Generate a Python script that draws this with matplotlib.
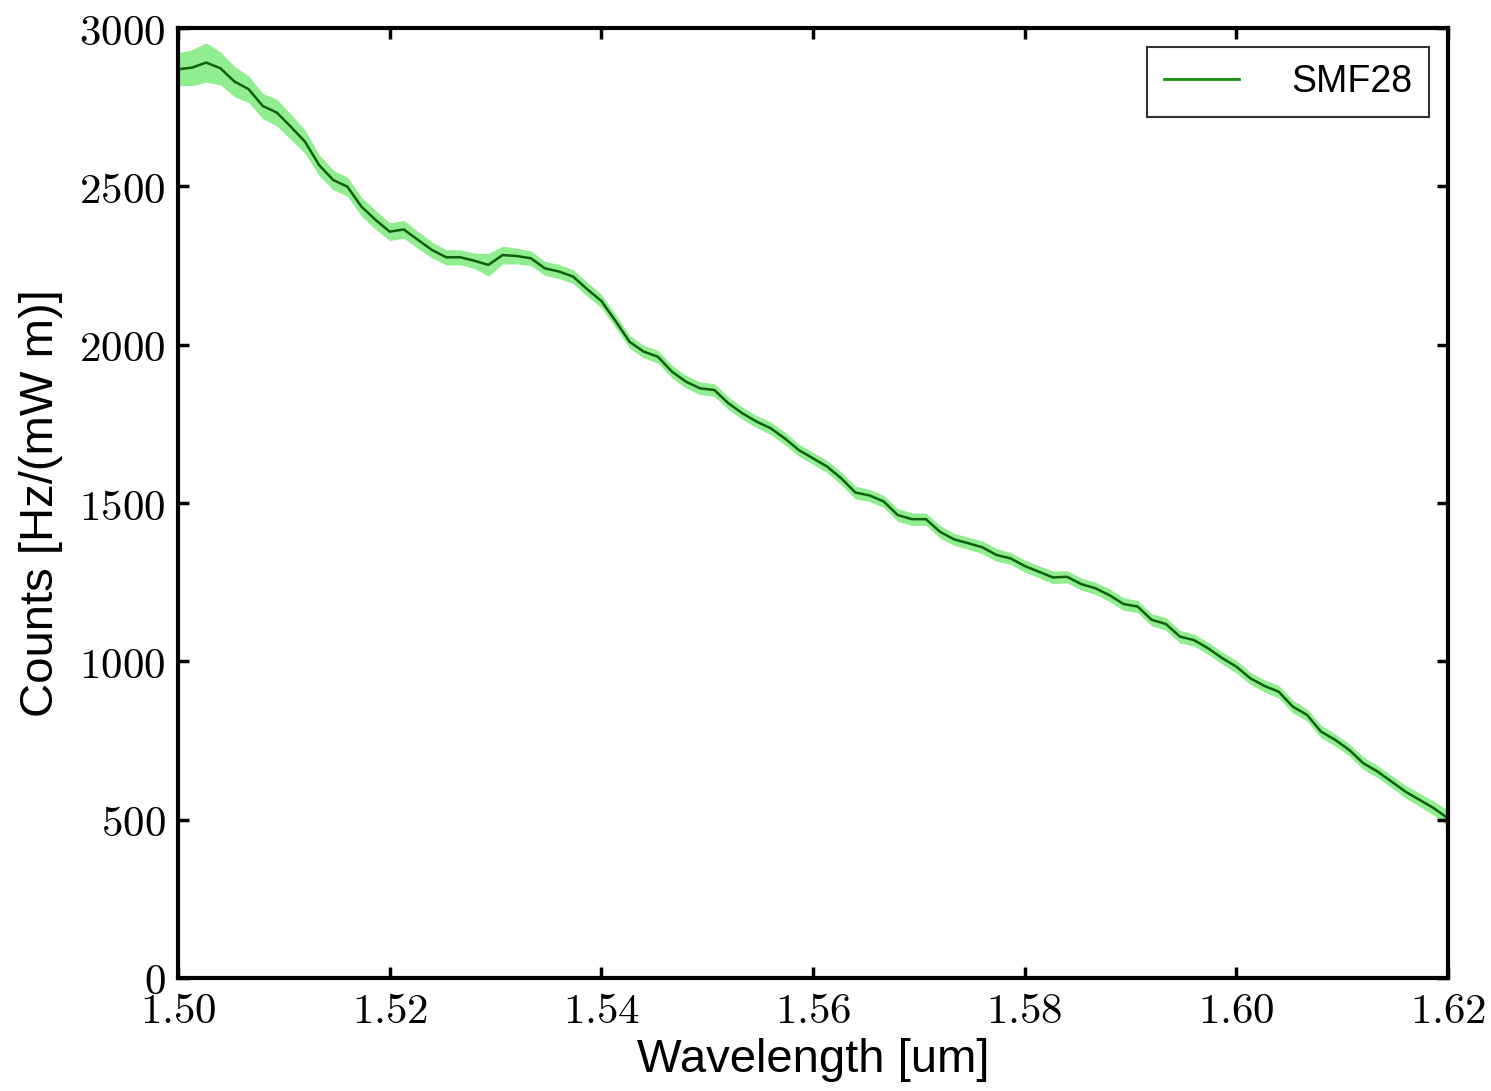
#!/usr/bin/env python3
# Counts vs wavelength for SMF28 with uncertainty band

import numpy as np
import matplotlib
matplotlib.use("Agg")
import matplotlib.pyplot as plt
from matplotlib.lines import Line2D
from matplotlib.ticker import FuncFormatter

plt.rcParams['mathtext.fontset'] = 'cm'

# Data
wavelength = np.linspace(1.50, 1.62, 91)  # evenly sampled grid [um]
counts = [2870, 2875, 2891, 2873, 2831, 2807, 2754, 2733, 2688, 2641,
          2567, 2520, 2499, 2436, 2394, 2357, 2364, 2331, 2299, 2276,
          2276, 2265, 2252, 2283, 2280, 2273, 2241, 2231, 2215, 2175,
          2138, 2075, 2009, 1978, 1962, 1915, 1883, 1862, 1857, 1815,
          1783, 1757, 1736, 1704, 1667, 1641, 1615, 1578, 1533, 1524,
          1505, 1462, 1449, 1449, 1409, 1385, 1373, 1360, 1336, 1325,
          1301, 1283, 1265, 1267, 1244, 1231, 1209, 1181, 1173, 1131,
          1118, 1078, 1067, 1041, 1010, 983, 946, 922, 904, 857,
          831, 778, 752, 720, 678, 652, 620, 588, 562, 536, 504]
errors = [52, 57, 62, 52, 48, 42, 40, 42, 40, 37,
          33, 31, 30, 30, 30, 28, 28, 27, 25, 24,
          24, 24, 36, 28, 25, 23, 22, 22, 22, 22,
          21, 21, 20, 20, 20, 20, 20, 20, 20, 20,
          19, 19, 20, 20, 19, 19, 19, 20, 20, 19,
          19, 20, 20, 19, 20, 19, 19, 20, 20, 19,
          19, 19, 20, 19, 19, 19, 20, 20, 19, 19,
          20, 20, 19, 19, 19, 20, 19, 19, 20, 20,
          19, 20, 19, 19, 20, 19, 19, 20, 21, 22, 25]
xticks = [1.50, 1.52, 1.54, 1.56, 1.58, 1.60, 1.62]
yticks = [0, 500, 1000, 1500, 2000, 2500, 3000]

counts = np.array(counts)
errors = np.array(errors)

fig = plt.figure(figsize=(14.91, 10.91), dpi=100)
ax = fig.add_axes([0.1194, 0.1036, 0.8518, 0.8707])

ax.fill_between(wavelength, counts - errors, counts + errors,
                color='#90ee90', linewidth=0)
ax.plot(wavelength, counts, color='#0f5f0f', linewidth=1.8)

ax.set_xlim(1.50, 1.62)
ax.set_ylim(0, 3000)
ax.set_xticks(xticks)
ax.set_yticks(yticks)
ax.xaxis.set_major_formatter(FuncFormatter(lambda v, p: r'$%.2f$' % v))
ax.yaxis.set_major_formatter(FuncFormatter(lambda v, p: r'$%d$' % v))
ax.tick_params(direction='in', top=True, right=True, length=8, width=2.5,
               labelsize=31, pad=9)
for s in ax.spines.values():
    s.set_linewidth(3)

ax.set_xlabel('Wavelength [um]', family='Liberation Sans', fontsize=34,
              labelpad=4)
ax.set_ylabel('Counts [Hz/(mW m)]', family='Liberation Sans', fontsize=34,
              labelpad=12)

handle = Line2D([], [], color='#109010', linewidth=2)
leg = ax.legend([handle], ['SMF28'], loc='upper right', fancybox=False,
                prop={'family': 'Liberation Sans', 'size': 27},
                handlelength=2.0, handletextpad=1.4, borderpad=0.45,
                borderaxespad=0.5)
leg.get_frame().set_edgecolor('black')
leg.get_frame().set_linewidth(1.5)

fig.savefig('out.png', dpi=100)
